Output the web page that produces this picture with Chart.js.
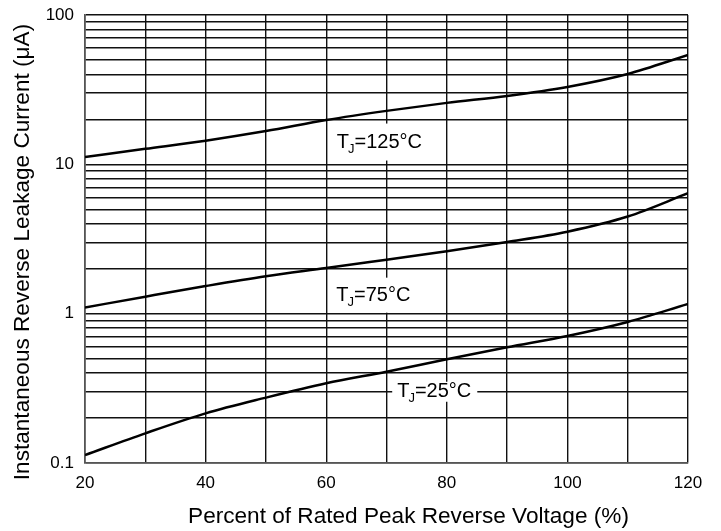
<!DOCTYPE html>
<html>
<head>
<meta charset="utf-8">
<script src="https://cdn.jsdelivr.net/npm/chart.js@4"></script>
<style>
  html, body { margin: 0; padding: 0; background: #fff; }
  #wrap { width: 721px; height: 531px; }
</style>
</head>
<body>
<div id="wrap"><canvas id="leakageChart" width="721" height="531"></canvas></div>
<script>
const voltagePct = [20, 30, 40, 50, 60, 70, 80, 90, 100, 110, 120];
const tj125 = [11.2, 12.7, 14.4, 16.7, 19.8, 22.8, 25.8, 28.7, 33.0, 40.3, 54.0];
const tj75 = [1.10, 1.30, 1.53, 1.78, 2.02, 2.30, 2.62, 3.02, 3.54, 4.47, 6.4];
const tj25 = [0.113, 0.158, 0.215, 0.274, 0.342, 0.409, 0.495, 0.596, 0.709, 0.88, 1.16];

const xTicks = [20, 30, 40, 50, 60, 70, 80, 90, 100, 110, 120];
const xLabels = [20, 40, 60, 80, 100, 120];
const yTicks = [0.1, 0.2, 0.3, 0.4, 0.5, 0.6, 0.7, 0.8, 0.9,
                1, 2, 3, 4, 5, 6, 7, 8, 9,
                10, 20, 30, 40, 50, 60, 70, 80, 90, 100];
const yLabels = [0.1, 1, 10, 100];

const xTitle = 'Percent of Rated Peak Reverse Voltage (%)';
const yTitle = 'Instantaneous Reverse Leakage Current (μA)';

// curve labels and where they sit, in data units
const curveNames = ['125°C', '75°C', '25°C'];
const labelX = [68.9, 67.9, 78.0];
const labelY = [14.1, 1.33, 0.3];

const FONT = '"Liberation Sans", Arial, sans-serif';

const toPoints = (vals) => voltagePct.map((x, i) => ({ x: x, y: vals[i] }));

const curveLabels = {
    id: 'curveLabels',
    afterDatasetsDraw(chart) {
        const ctx = chart.ctx;
        const xs = chart.scales.x;
        const ys = chart.scales.y;
        const big = '20px ' + FONT;
        const small = '13px ' + FONT;
        const boxH = [37, 35, 20];
        curveNames.forEach((name, i) => {
            const cx = xs.getPixelForValue(labelX[i]);
            const cy = ys.getPixelForValue(labelY[i]);
            const rest = '=' + name;
            ctx.save();
            ctx.font = big;
            const wT = ctx.measureText('T').width;
            const wR = ctx.measureText(rest).width;
            ctx.font = small;
            const wJ = ctx.measureText('J').width;
            const total = wT + wJ + wR;
            const x0 = cx - total / 2;
            ctx.fillStyle = '#fff';
            ctx.fillRect(x0 - 5, cy - boxH[i] / 2, total + 10, boxH[i]);
            ctx.fillStyle = '#000';
            ctx.textBaseline = 'middle';
            ctx.textAlign = 'left';
            ctx.font = big;
            ctx.fillText('T', x0, cy);
            ctx.font = small;
            ctx.fillText('J', x0 + wT - 1, cy + 7);
            ctx.font = big;
            ctx.fillText(rest, x0 + wT + wJ - 1, cy);
            ctx.restore();
        });
    }
};

const axisTitles = {
    id: 'axisTitles',
    afterDraw(chart) {
        const ctx = chart.ctx;
        const a = chart.chartArea;
        ctx.save();
        ctx.fillStyle = '#000';
        ctx.font = '22.6px ' + FONT;
        ctx.textAlign = 'center';
        ctx.textBaseline = 'alphabetic';
        ctx.fillText(xTitle, (a.left + a.right) / 2 + 22, chart.height - 8);
        ctx.translate(29, (a.top + a.bottom) / 2 + 13);
        ctx.rotate(-Math.PI / 2);
        ctx.fillText(yTitle, 0, 0);
        ctx.restore();
    }
};

const noPad = (scale) => {
    scale.paddingTop = 0;
    scale.paddingBottom = 0;
    scale.paddingLeft = 0;
    scale.paddingRight = 0;
};

const lineStyle = {
    borderColor: '#000',
    borderWidth: 2.5,
    pointRadius: 0,
    fill: false,
    cubicInterpolationMode: 'monotone'
};

const ctx = document.getElementById('leakageChart').getContext('2d');
const chart = new Chart(ctx, {
    type: 'line',
    data: {
        datasets: [
            Object.assign({ label: 'TJ=125°C', data: toPoints(tj125) }, lineStyle),
            Object.assign({ label: 'TJ=75°C', data: toPoints(tj75) }, lineStyle),
            Object.assign({ label: 'TJ=25°C', data: toPoints(tj25) }, lineStyle)
        ]
    },
    options: {
        responsive: false,
        animation: false,
        layout: { padding: { top: 15, right: 33, left: 0, bottom: 0 } },
        scales: {
            x: {
                type: 'linear',
                min: 20,
                max: 120,
                afterBuildTicks: (scale) => { scale.ticks = xTicks.map(v => ({ value: v })); },
                afterFit: (scale) => { scale.height = 68; noPad(scale); },
                ticks: {
                    autoSkip: false,
                    maxRotation: 0,
                    color: '#000',
                    padding: 10,
                    font: { family: FONT, size: 17 },
                    callback: (v) => xLabels.includes(v) ? String(v) : ''
                },
                grid: { color: '#111', lineWidth: 1.4, drawTicks: false },
                border: { color: '#555', width: 1.6 }
            },
            y: {
                type: 'logarithmic',
                min: 0.1,
                max: 100,
                afterBuildTicks: (scale) => { scale.ticks = yTicks.map(v => ({ value: v })); },
                afterFit: (scale) => { scale.width = 85; noPad(scale); },
                ticks: {
                    autoSkip: false,
                    color: '#000',
                    padding: 11,
                    font: { family: FONT, size: 17 },
                    callback: (v) => yLabels.includes(Number(v)) ? String(v) : ''
                },
                grid: { color: '#111', lineWidth: 1.4, drawTicks: false },
                border: { color: '#555', width: 1.6 }
            }
        },
        plugins: {
            legend: { display: false },
            tooltip: { enabled: false }
        }
    },
    plugins: [curveLabels, axisTitles]
});
</script>
</body>
</html>
